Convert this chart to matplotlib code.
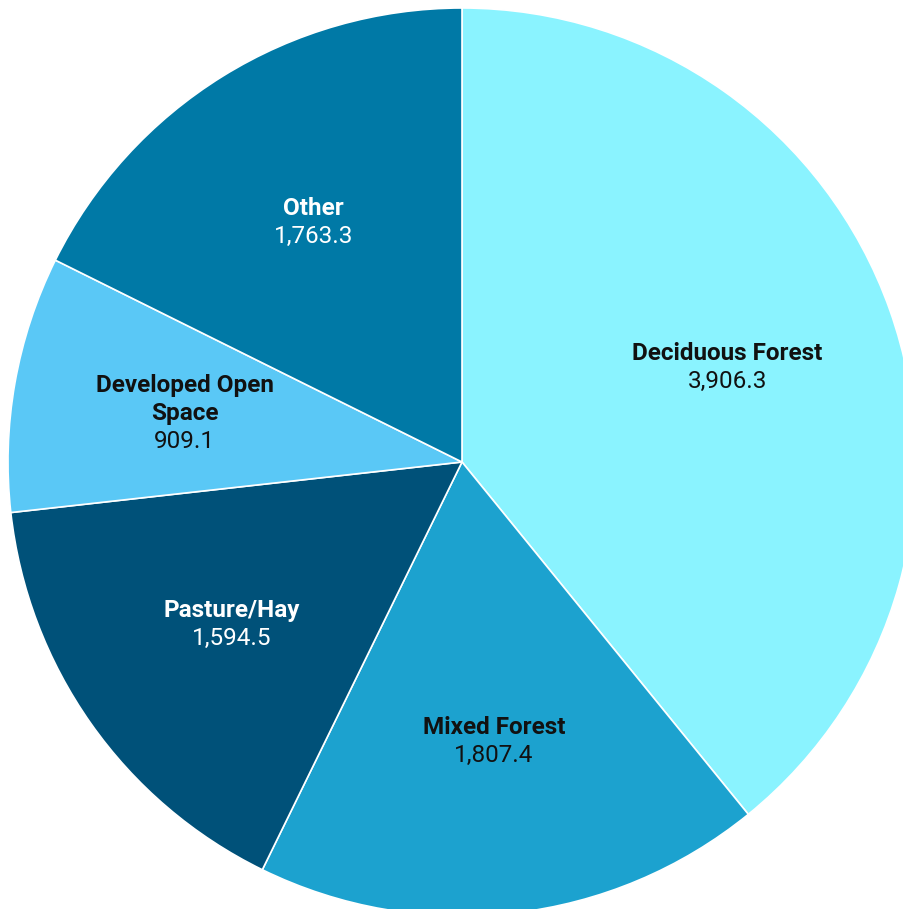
import numpy as np
import matplotlib.pyplot as plt

plt.rcParams['font.family'] = ['Roboto', 'DejaVu Sans']

# land cover areas
labels = ['Deciduous Forest', 'Mixed Forest', 'Pasture/Hay', 'Developed Open\nSpace', 'Other']
values = [3906.3, 1807.4, 1594.5, 909.1, 1763.3]
colors = ['#8af3ff', '#1ca2cf', '#005179', '#5ac8f6', '#0079a6']
text_colors = ['#111111', '#111111', 'white', '#111111', 'white']

W, H = 904, 909
cx, cy, R = 462, 462, 454

fig = plt.figure(figsize=(W / 100, H / 100), dpi=100)
ax = fig.add_axes([0, 0, 1, 1])

wedges, _ = ax.pie(values, colors=colors, startangle=90, counterclock=False,
                   radius=1, wedgeprops=dict(edgecolor='white', linewidth=1.2))

# pixel-exact limits: one data unit = R pixels
ax.set_xlim(-cx / R, (W - cx) / R)
ax.set_ylim(-(H - cy) / R, cy / R)
ax.set_aspect('auto')

line_h = 28
for w, name, val, tc in zip(wedges, labels, values, text_colors):
    mid = np.deg2rad((w.theta1 + w.theta2) / 2)
    x, y = 0.62 * np.cos(mid), 0.62 * np.sin(mid)
    lines = [(s, 'bold') for s in name.split('\n')] + [(f'{val:,.1f}', 'normal')]
    n = len(lines)
    for i, (s, wt) in enumerate(lines):
        off = ((n - 1) / 2 - i) * line_h
        ax.annotate(s, (x, y), xytext=(0, off), textcoords='offset pixels',
                    ha='center', va='center', fontsize=17.5, fontweight=wt, color=tc)

fig.savefig('out.png', dpi=100, facecolor='white')
